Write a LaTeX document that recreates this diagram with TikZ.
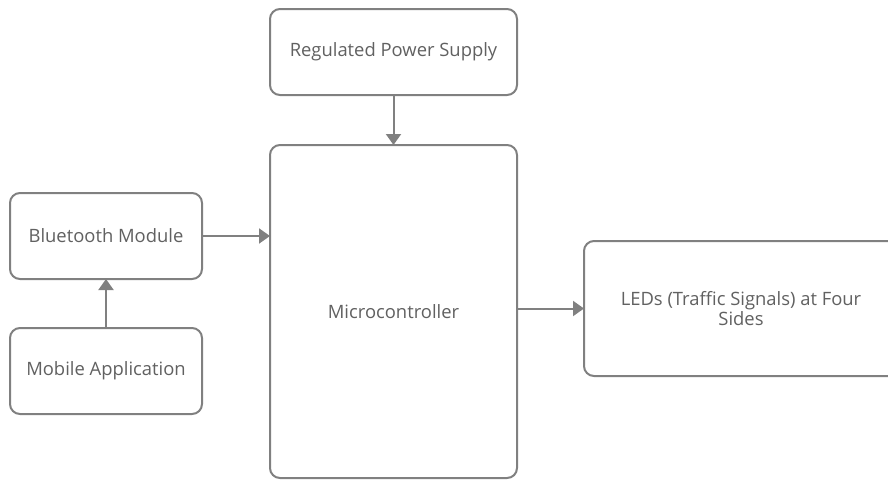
\documentclass[tikz,border=0pt]{standalone}
\usepackage{fontspec}
\setmainfont{Open Sans}
\usetikzlibrary{arrows.meta}

\definecolor{boxline}{rgb}{0.50, 0.50, 0.50}
\definecolor{boxtext}{rgb}{0.38, 0.38, 0.38}

\begin{document}
\begin{tikzpicture}[x=1pt, y=-1pt,
  block/.style={draw=boxline, line width=2pt, rounded corners=10pt, fill=white,
    text=boxtext, font=\fontsize{18.4}{18}\selectfont, align=center,
    inner sep=0pt, outer sep=0pt},
  link/.style={draw=boxline, line width=2pt,
    -{Triangle[length=11pt, width=15pt]}}]
\useasboundingbox (0,0) rectangle (888,480);
% blocks
\node[block, minimum width=247pt, minimum height=86pt] (supply) at (393.5,52) {Regulated Power Supply};
\node[block, minimum width=247pt, minimum height=333pt] (micro) at (393.5,311.5) {Microcontroller};
\node[block, minimum width=192pt, minimum height=86pt] (bluetooth) at (106,236) {Bluetooth Module};
\node[block, minimum width=192pt, minimum height=86pt] (mobile) at (106,371) {Mobile Application};
\node[block, minimum width=314pt, minimum height=135pt] (leds) at (741,308.5) {LEDs (Traffic Signals) at Four\\Sides};
% links
\draw[link] (supply) -- (micro);
\draw[link] (mobile) -- (bluetooth);
\draw[link] (bluetooth.east) -- (bluetooth.east -| micro.west);
\draw[link] (micro.east |- leds.west) -- (leds.west);
\end{tikzpicture}
\end{document}
